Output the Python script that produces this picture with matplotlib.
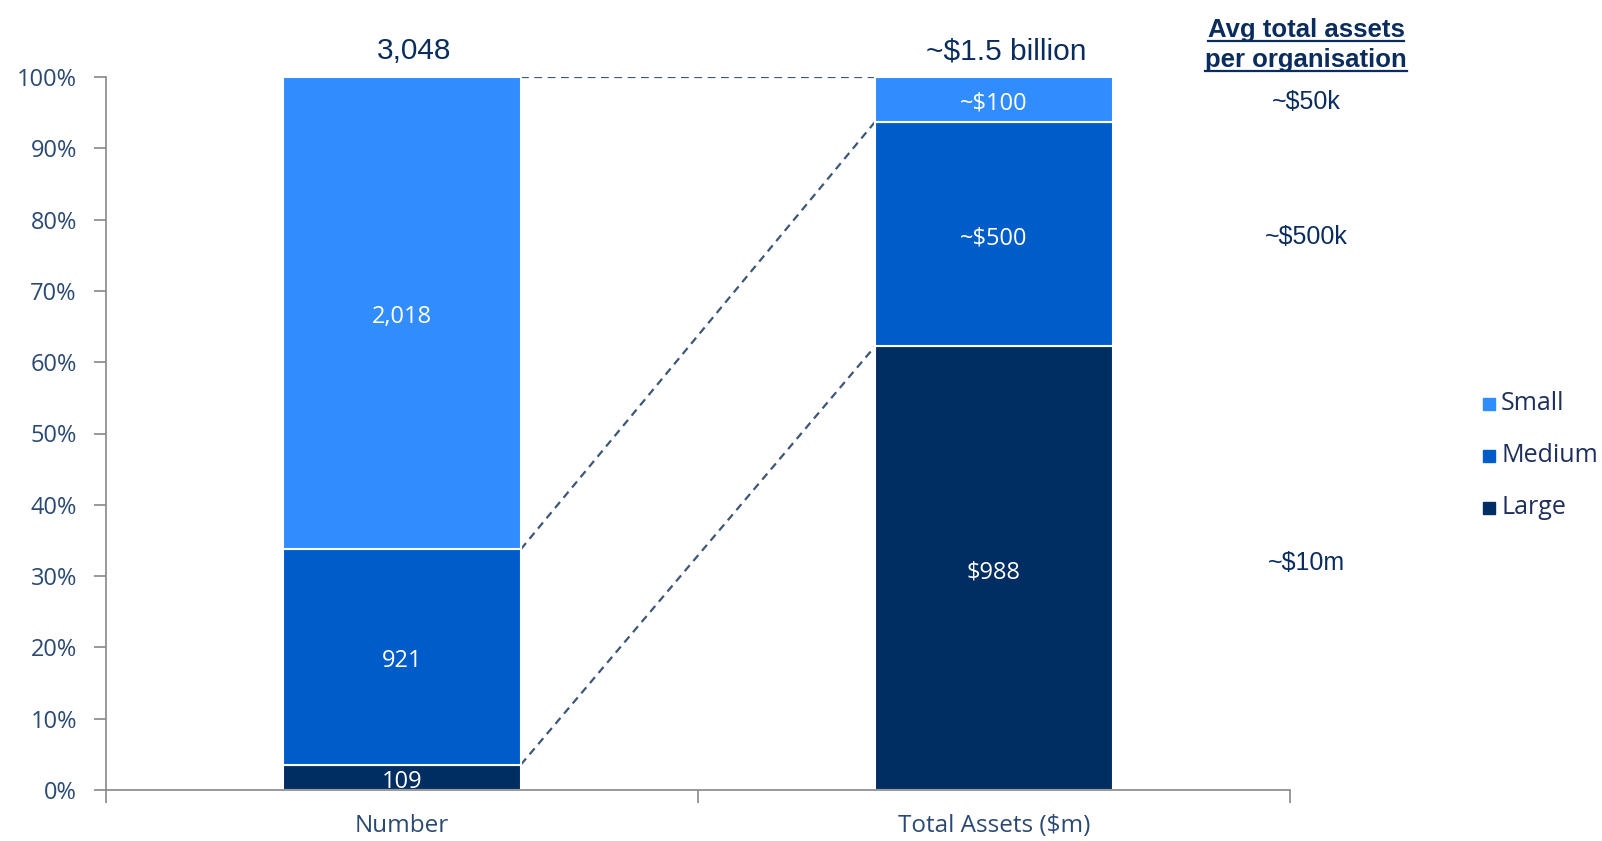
import matplotlib
matplotlib.use("Agg")
import matplotlib.pyplot as plt
from matplotlib.lines import Line2D
from matplotlib.patches import Rectangle
import numpy as np

categories = ["Number", "Total Assets ($m)"]
segments = ["Large", "Medium", "Small"]
number_vals = [109, 921, 2018]
assets_vals = [988, 500, 100]
bar_labels_number = ["109", "921", "2,018"]
bar_labels_assets = ["$988", "~$500", "~$100"]
totals_labels = ["3,048", "~$1.5 billion"]
avg_labels = ["~$10m", "~$500k", "~$50k"]
yticks = list(range(0, 101, 10))
ytick_labels = [f"{v}%" for v in yticks]

colors = {"Large": "#002D62", "Medium": "#005CC8", "Small": "#318DFE"}
navy = "#0B2D5E"
tickcol = "#2B4A73"
font_body = "Open Sans"
font_head = "Liberation Sans"

W, H = 1602, 841
fig = plt.figure(figsize=(W / 100, H / 100), dpi=100)
ax = fig.add_axes([106 / W, 1 - 790 / H, (1290 - 106) / W, (790 - 77) / H])

data = [number_vals, assets_vals]
labels = [bar_labels_number, bar_labels_assets]
bw = 0.402
cums = []
for i, vals in enumerate(data):
    tot = sum(vals)
    pct = np.array(vals) / tot * 100
    bottom = 0
    cum = [0]
    for j, seg in enumerate(segments):
        ax.bar(i, pct[j], bw, bottom=bottom, color=colors[seg], edgecolor="white",
               linewidth=1.5, zorder=2)
        ax.text(i, bottom + pct[j] / 2 - 0.6, labels[i][j], ha="center", va="center",
                color="white", fontsize=17, family=font_body, zorder=3)
        bottom += pct[j]
        cum.append(bottom)
    cums.append(cum)

# connectors
for k in [1, 2, 3]:
    y0 = cums[0][k]
    y1 = cums[1][k]
    ax.plot([0 + bw / 2, 1 - bw / 2], [y0, y1], color="#3E5777", lw=1.6,
            dashes=(3.5, 2.5), zorder=1)

ax.set_xlim(-0.5, 1.5)
ax.set_ylim(0, 100)
ax.set_yticks(yticks)
ax.set_yticklabels(ytick_labels, family=font_body, fontsize=17, color=tickcol)
ax.set_xticks([-0.5, 0.5, 1.5])
ax.set_xticklabels([])
ax.set_xticks([0, 1], minor=True)
ax.set_xticklabels(categories, minor=True, family=font_body, fontsize=17.5, color=tickcol)
ax.tick_params(axis="x", which="minor", length=0, pad=17)
ax.tick_params(axis="x", which="major", length=9, color="#888888", width=1.2)
ax.tick_params(axis="y", length=9, color="#888888", width=1.2, pad=12)
for s in ["top", "right"]:
    ax.spines[s].set_visible(False)
for s in ["left", "bottom"]:
    ax.spines[s].set_color("#888888")
    ax.spines[s].set_linewidth(1.2)

# totals above bars
for i, t in enumerate(totals_labels):
    ax.text(i + 0.02, 103.6, t, ha="center", va="center",
            fontsize=21.5, family=font_head, color=navy, clip_on=False)

# right annotations
xr = 1306 / W
t1 = fig.text(xr, 1 - 30 / H, "Avg total assets", ha="center", va="center",
              fontsize=18.5, fontweight="bold", family=font_head, color=navy)
t2 = fig.text(xr, 1 - 60 / H, "per organisation", ha="center", va="center",
              fontsize=18.5, fontweight="bold", family=font_head, color=navy)
fig.canvas.draw()
r = fig.canvas.get_renderer()
for t in (t1, t2):
    bb = t.get_window_extent(renderer=r)
    yl = bb.y0 + 1
    fig.add_artist(Line2D([bb.x0 / W, bb.x1 / W], [yl / H, yl / H], color=navy, lw=1.6))

for lbl, yp in zip(avg_labels, [563, 237, 102]):
    fig.text(xr, 1 - yp / H, lbl, ha="center", va="center", fontsize=18,
             family=font_head, color=navy)

# legend
for seg, yp in zip(["Small", "Medium", "Large"], [404, 456, 508]):
    fig.add_artist(Rectangle(((1483) / W, 1 - (yp + 6) / H), 12 / W, 12 / H,
                             color=colors[seg], transform=fig.transFigure))
    fig.text(1501 / W, 1 - yp / H, seg, ha="left", va="center", fontsize=18,
             family=font_body, color="#1F2F5C")

fig.savefig("out.png", dpi=100)
